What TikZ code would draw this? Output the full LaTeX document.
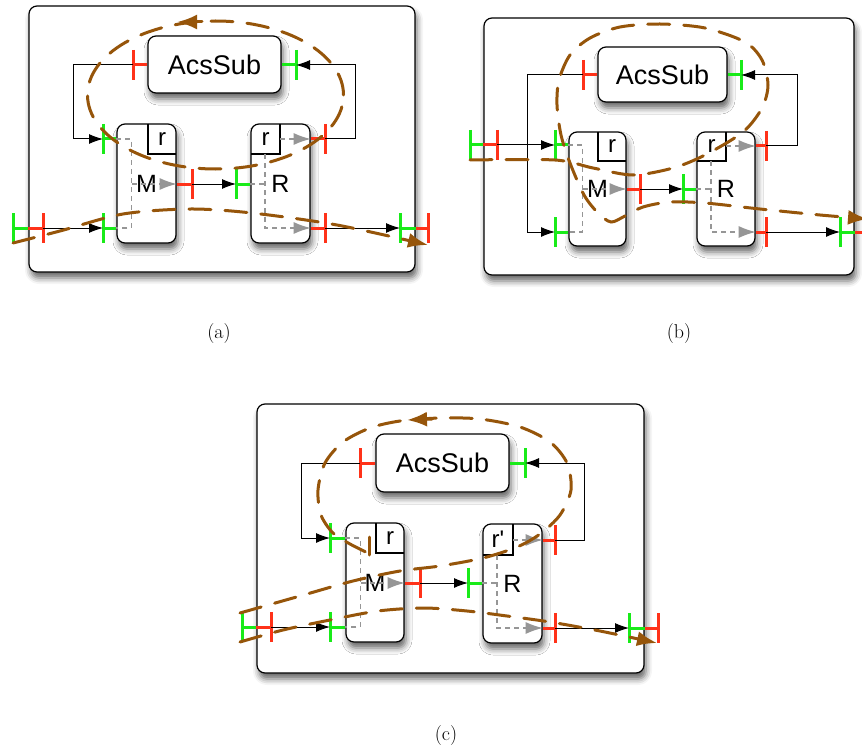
\documentclass[tikz,border=0pt]{standalone}
\usepackage{fontspec}
\newfontfamily\lab{Liberation Sans}
\usetikzlibrary{arrows.meta,shadows.blur}
\definecolor{portred}{RGB}{255,50,25}
\definecolor{portgreen}{RGB}{25,235,25}
\definecolor{tracebrown}{RGB}{150,85,10}
\definecolor{flowgray}{RGB}{150,150,150}
\tikzset{
 sh/.style={blur shadow={shadow xshift=2pt, shadow yshift=-6pt, shadow blur radius=6pt, shadow opacity=60}},
 outerbox/.style={draw=black, line width=1.2pt, rounded corners=8pt, fill=white, sh, inner sep=0pt},
 blk/.style={draw=black, line width=1.2pt, rounded corners=8pt, fill=white, sh, inner sep=0pt, font=\lab\fontsize{25}{28}\selectfont},
 acs/.style={blk, font=\lab\fontsize{27}{30}\selectfont},
 rlbl/.style={font=\lab\fontsize{24}{26}\selectfont, inner sep=0pt},
 sub/.style={draw=black, line width=1.2pt},
 conn/.style={draw=black, line width=1pt, -{Latex[length=14pt,width=10pt]}},
 gdash/.style={draw=flowgray, line width=1.1pt, dash pattern=on 5pt off 4pt},
 garrow/.style={gdash, -{Latex[length=17pt,width=12pt]}},
 outp/.style={draw=portred, line width=3pt},
 inp/.style={draw=portgreen, line width=3pt},
 trace/.style={draw=tracebrown, line width=3pt, dash pattern=on 22pt off 14pt, line cap=round},
 ttip/.style={-{Latex[length=20pt,width=15pt]}},
 capt/.style={font=\fontsize{20}{24}\selectfont, anchor=base, inner sep=0pt}
}
\newcommand\mkbox[7]{\pgfmathsetmacro\bxw{#5-#3}\pgfmathsetmacro\bxh{#6-#4}%
 \node[#1, minimum width=\bxw pt, minimum height=\bxh pt] (#2) at ({(#3+#5)/2},{(#4+#6)/2}) {#7};}
\newcommand\mkport[4]{\coordinate (#2) at #3;
 \draw[#1] (#2) -- (#4 |- #2);
 \draw[#1] (#2) ++(0,-15) -- ++(0,30);}
\begin{document}
\begin{tikzpicture}[x=1pt,y=-1pt]
\useasboundingbox (0,0) rectangle (862,749);

% ================= (a) =================
\mkbox{outerbox}{a-out}{29}{6}{415}{272}{}
\mkbox{acs}{a-acs}{148}{36}{281}{93}{AcsSub}
\mkbox{blk}{a-M}{117}{124}{176}{243}{M}
\mkbox{blk}{a-R}{251}{124}{310}{243}{R}
\draw[sub] (148,124) |- (176,154); \node[rlbl] (a-Mr) at (162,139) {r};
\draw[sub] (280,124) |- (251,154); \node[rlbl] (a-Rr) at (265.5,139) {r};
\mkport{outp}{a-acso}{(133,65)}{a-acs.west}
\mkport{inp}{a-acsi}{(296,65)}{a-acs.east}
\mkport{inp}{a-Mi1}{(103,139)}{a-M.west}
\mkport{inp}{a-Mi2}{(103,228)}{a-M.west}
\mkport{outp}{a-Mo}{(192,184)}{a-M.east}
\mkport{inp}{a-Ri}{(236,184)}{a-R.west}
\mkport{outp}{a-Ro1}{(325,139)}{a-R.east}
\mkport{outp}{a-Ro2}{(325,228)}{a-R.east}
\mkport{inp}{a-Li}{(13,228)}{a-out.west}
\mkport{outp}{a-Lo}{(43,228)}{a-out.west}
\mkport{inp}{a-Ei}{(400,228)}{a-out.east}
\mkport{outp}{a-Eo}{(428,228)}{a-out.east}
\draw[conn] (a-acso) -- ++(-60,0) |- (a-Mi1);
\draw[conn] (a-Ro1) -- ++(30,0) |- (a-acsi);
\draw[conn] (a-Mo) -- (a-Ri);
\draw[conn] (a-Lo) -- (a-Mi2);
\draw[conn] (a-Ro2) -- (a-Ei);
\draw[gdash] (a-M.west |- a-Mi1) -- ++(15,0) |- (a-M.west |- a-Mi2);
\draw[garrow] (132,184) -- (a-M.east |- a-Mo);
\draw[gdash] (a-R.west |- a-Ri) -- (265,184);
\draw[garrow] (265,154) |- (a-R.east |- a-Ro2);
\draw[garrow] (280,139) -- (a-R.east |- a-Ro1);
\draw[trace] (215.5,95) ellipse [x radius=128pt, y radius=74pt];
\draw[trace, ttip] (202,22) -- (177,22);
\draw[trace, ttip] plot[smooth] coordinates {(13,243) (60,231) (123,214) (190,209) (252,213) (337,225) (428,245)};
\node[capt] (cap-a) at (219,338) {(a)};

% ================= (b) =================
\mkbox{outerbox}{b-out}{484}{18}{854}{275}{}
\mkbox{acs}{b-acs}{598}{47}{727}{102}{AcsSub}
\mkbox{blk}{b-M}{569}{132}{626}{246}{M}
\mkbox{blk}{b-R}{697}{132}{755}{246}{R}
\draw[sub] (598,132) |- (626,161); \node[rlbl] (b-Mr) at (612,146.5) {r};
\draw[sub] (726,132) |- (697,161); \node[rlbl] (b-Rr) at (711.5,146.5) {r};
\mkport{outp}{b-acso}{(583,75)}{b-acs.west}
\mkport{inp}{b-acsi}{(741,75)}{b-acs.east}
\mkport{inp}{b-Mi1}{(555,145)}{b-M.west}
\mkport{inp}{b-Mi2}{(555,232)}{b-M.west}
\mkport{outp}{b-Mo}{(640,189)}{b-M.east}
\mkport{inp}{b-Ri}{(683,189)}{b-R.west}
\mkport{outp}{b-Ro1}{(766,146)}{b-R.east}
\mkport{outp}{b-Ro2}{(766,232)}{b-R.east}
\mkport{inp}{b-Li}{(470,145)}{b-out.west}
\mkport{outp}{b-Lo}{(497,145)}{b-out.west}
\mkport{inp}{b-Ei}{(840,232)}{b-out.east}
\mkport{outp}{b-Eo}{(868,232)}{b-out.east}
\draw[conn] (b-acso) -- ++(-56,0) |- (b-Mi2);
\draw[conn] (b-Lo) -- (b-Mi1);
\draw[conn] (b-Ro1) -- ++(31,0) |- (b-acsi);
\draw[conn] (b-Mo) -- (b-Ri);
\draw[conn] (b-Ro2) -- (b-Ei);
\draw[gdash] (b-M.west |- b-Mi1) -- ++(14,0) |- (b-M.west |- b-Mi2);
\draw[garrow] (583,189) -- (b-M.east |- b-Mo);
\draw[gdash] (b-R.west |- b-Ri) -- (711,189);
\draw[garrow] (711,161) |- (b-R.east |- b-Ro2);
\draw[garrow] (726,146) -- (b-R.east |- b-Ro1);
\draw[trace, ttip] plot[smooth] coordinates {(470,160) (555,160) (593,168) (633,175) (673,168) (705,155) (743,132) (762,108) (768,85) (762,60) (745,42) (705,28) (660,24) (620,27) (590,38) (570,55) (559,80) (557,105) (561,135) (570,163) (584,195) (598,213) (611,222) (625,216) (643,207) (670,202) (705,203) (760,209) (820,215) (868,219)};
\node[capt] (cap-b) at (679,338) {(b)};

% ================= (c) =================
\mkbox{outerbox}{c-out}{257}{404}{644}{673}{}
\mkbox{acs}{c-acs}{376}{434}{509}{492}{AcsSub}
\mkbox{blk}{c-M}{346}{523}{404}{642}{M}
\mkbox{blk}{c-R}{483}{524}{542}{643}{R}
\draw[sub] (376,523) |- (404,553); \node[rlbl] (c-Mr) at (390,538) {r};
\draw[sub] (513,524) |- (483,555); \node[rlbl] (c-Rr) at (498,539.5) {r\textquotesingle};
\mkport{outp}{c-acso}{(360,463)}{c-acs.west}
\mkport{inp}{c-acsi}{(525,463)}{c-acs.east}
\mkport{inp}{c-Mi1}{(330,538)}{c-M.west}
\mkport{inp}{c-Mi2}{(330,627)}{c-M.west}
\mkport{outp}{c-Mo}{(420,583)}{c-M.east}
\mkport{inp}{c-Ri}{(468,583)}{c-R.west}
\mkport{outp}{c-Ro1}{(555,540)}{c-R.east}
\mkport{outp}{c-Ro2}{(555,628)}{c-R.east}
\mkport{inp}{c-Li}{(242,627)}{c-out.west}
\mkport{outp}{c-Lo}{(271,627)}{c-out.west}
\mkport{inp}{c-Ei}{(629,628)}{c-out.east}
\mkport{outp}{c-Eo}{(658,628)}{c-out.east}
\draw[conn] (c-acso) -- ++(-59,0) |- (c-Mi1);
\draw[conn] (c-Ro1) -- ++(29,0) |- (c-acsi);
\draw[conn] (c-Mo) -- (c-Ri);
\draw[conn] (c-Lo) -- (c-Mi2);
\draw[conn] (c-Ro2) -- (c-Ei);
\draw[gdash] (c-M.west |- c-Mi1) -- ++(15,0) |- (c-M.west |- c-Mi2);
\draw[garrow] (361,583) -- (c-M.east |- c-Mo);
\draw[gdash] (c-R.west |- c-Ri) -- (497,583);
\draw[garrow] (497,555) |- (c-R.east |- c-Ro2);
\draw[garrow] (513,540) -- (c-R.east |- c-Ro1);
\draw[trace] plot[smooth] coordinates {(240,613) (300,596) (353,581) (400,571) (440,566) (483,558) (517,547) (540,534) (560,515) (571,490) (567,463) (550,442) (520,427) (480,419) (440,418) (400,421) (370,428) (343,442) (325,463) (318,490) (321,515) (333,533) (350,544) (372,555)};
\draw[draw=tracebrown, line width=3pt, line cap=round] (369,537) -- (369,555);
\draw[trace, ttip] (432,419) -- (407,420);
\draw[trace, ttip] plot[smooth] coordinates {(240,642) (283,630) (330,620) (378,611) (424,608) (467,611) (507,616) (550,622) (600,631) (657,643)};
\node[capt] (cap-c) at (446,740) {(c)};
\end{tikzpicture}
\end{document}
